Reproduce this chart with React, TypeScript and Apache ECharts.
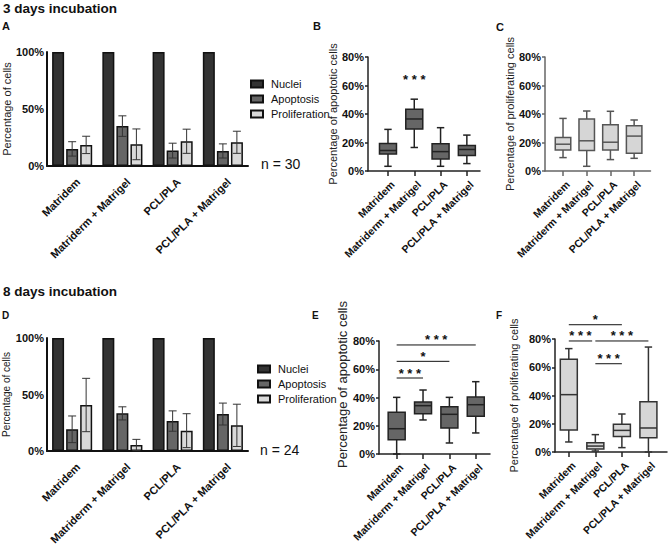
import React, { useEffect, useRef } from "react";
import * as echarts from "echarts";

const categories = ["Matridem", "Matriderm + Matrigel", "PCL/PLA", "PCL/PLA + Matrigel"];
const seriesNames = ["Nuclei", "Apoptosis", "Proliferation"];
const categoryPositions = [0, 1, 2, 3];

// Panel A – 3 days incubation (mean ± error, %)
const nuclei3d = [100, 100, 100, 100];
const apoptosis3d = [15, 35, 13.5, 13.2];
const apoptosis3dErr = [6.3, 9, 6.5, 6.2];
const prolif3d = [18.5, 19, 21.7, 20.8];
const prolif3dErr = [7.6, 13.5, 10.6, 9.7];

// Panel D – 8 days incubation
const nuclei8d = [100, 100, 100, 100];
const apoptosis8d = [19.2, 33.3, 26.5, 32.7];
const apoptosis8dErr = [11.8, 5.8, 9, 9.7];
const prolif8d = [40.7, 5.3, 18, 22.7];
const prolif8dErr = [23.6, 5, 15, 18.7];

// Box plots: [min, q1, median, q3, max]
const apoptoticBox3d = [
  [3.3, 12, 14.4, 19.3, 29.2],
  [16.5, 29.4, 36.5, 43.3, 50.4],
  [3.3, 8.5, 13.6, 19.1, 30.4],
  [5.2, 10.8, 15.1, 17.9, 25.2],
];
const prolifBox3d = [
  [9.4, 14.8, 18.8, 23.5, 36.9],
  [3.3, 14.4, 21.2, 36.5, 42.1],
  [8, 14.8, 20.2, 32.5, 41.9],
  [8.9, 12.5, 24.5, 31.8, 35.8],
];
const apoptoticBox8d = [
  [0, 10.1, 17.9, 29.5, 40.1],
  [24.1, 28.5, 34.2, 36.8, 45.3],
  [7.8, 18.4, 28.1, 33.5, 40.1],
  [14.9, 26.7, 34.9, 40.3, 51.2],
];
const prolifBox8d = [
  [7.1, 15.6, 40.6, 65.6, 73.2],
  [0.7, 2.1, 4.2, 6.6, 12.3],
  [3.1, 10.9, 15.3, 19.6, 26.9],
  [0, 10.1, 17, 35.6, 74.3],
];

// Significance: [from, to, y]
const sig3dApoptotic = [[1, 1, 60.8]];
const sig3dApoptoticLabels = ["* * *"];
const sig8dApoptotic = [
  [0, 3, 77.2],
  [0, 2, 65.6],
  [0, 1, 53.8],
];
const sig8dApoptoticLabels = ["* * *", "*", "* * *"];
const sig8dProlif = [
  [0, 2, 90.1],
  [0, 0.88, 78.6],
  [1, 3, 78.6],
  [1, 2, 62.5],
];
const sig8dProlifLabels = ["*", "* * *", "* * *", "* * *"];

const FONT = "'Liberation Sans', Arial, Helvetica, sans-serif";

const errRender = (offset: number, color: string) => (params: any, api: any) => {
  const c = api.value(0);
  const m = api.value(1);
  const e = api.value(2);
  const top = api.coord([c, m + e]);
  const bot = api.coord([c, Math.max(0, m - e)]);
  const x = top[0] + offset;
  const style = { stroke: color, lineWidth: 1 };
  return {
    type: "group",
    children: [
      { type: "line", shape: { x1: x, y1: top[1], x2: x, y2: bot[1] }, style },
      { type: "line", shape: { x1: x - 4, y1: top[1], x2: x + 4, y2: top[1] }, style },
      { type: "line", shape: { x1: x - 4, y1: bot[1], x2: x + 4, y2: bot[1] }, style },
    ],
  };
};

const boxRender = (boxW: number, fill: string, stroke: string) => (params: any, api: any) => {
  const x = api.value(0);
  const p = [1, 2, 3, 4, 5].map((d) => api.coord([x, api.value(d)]));
  const cx = p[0][0];
  const hw = boxW / 2;
  const cw = 3.7;
  const ls = { stroke, lineWidth: 1.5, fill: "none" };
  return {
    type: "group",
    children: [
      { type: "line", shape: { x1: cx, y1: p[4][1], x2: cx, y2: p[3][1] }, style: ls },
      { type: "line", shape: { x1: cx - cw, y1: p[4][1], x2: cx + cw, y2: p[4][1] }, style: ls },
      { type: "line", shape: { x1: cx, y1: p[0][1], x2: cx, y2: p[1][1] }, style: ls },
      { type: "line", shape: { x1: cx - cw, y1: p[0][1], x2: cx + cw, y2: p[0][1] }, style: ls },
      {
        type: "rect",
        shape: { x: cx - hw, y: p[3][1], width: boxW, height: p[1][1] - p[3][1] },
        style: { fill, stroke, lineWidth: 1.5 },
      },
      { type: "line", shape: { x1: cx - hw, y1: p[2][1], x2: cx + hw, y2: p[2][1] }, style: ls },
    ],
  };
};

const sigRender = (labels: string[]) => (params: any, api: any) => {
  const a = api.coord([api.value(0), api.value(2)]);
  const b = api.coord([api.value(1), api.value(2)]);
  const children: any[] = [];
  if (Math.abs(b[0] - a[0]) > 0.5) {
    children.push({
      type: "line",
      shape: { x1: a[0], y1: a[1], x2: b[0], y2: b[1] },
      style: { stroke: "#111", lineWidth: 1 },
    });
  }
  children.push({
    type: "text",
    x: (a[0] + b[0]) / 2,
    y: a[1] - 5,
    style: {
      text: labels[params.dataIndex],
      align: "center",
      verticalAlign: "middle",
      fontSize: 13,
      fontWeight: "bold",
      fontFamily: FONT,
      fill: "#111",
    },
  });
  return { type: "group", children };
};

const labelRender = (fontSize: number, dx: number, dy: number) => (params: any, api: any) => {
  const p = api.coord([api.value(0), 0]);
  return {
    type: "text",
    x: p[0] + dx,
    y: p[1] + dy,
    rotation: Math.PI / 4,
    style: {
      text: categories[params.dataIndex],
      align: "right",
      verticalAlign: "middle",
      fontSize,
      fontWeight: "bold",
      fontFamily: FONT,
      fill: "#111",
    },
  };
};

const pct = (v: number) => `${v}%`;

function barXAxis(gridIndex: number) {
  return {
    type: "category",
    gridIndex,
    data: categories,
    axisLine: { lineStyle: { color: "#111", width: 2 } },
    axisTick: { alignWithLabel: true, length: 5, lineStyle: { color: "#111", width: 1.5 } },
    axisLabel: { show: false },
  };
}

function boxXAxis(gridIndex: number, min: number, max: number, lineColor: string) {
  return {
    type: "value",
    gridIndex,
    min,
    max,
    splitLine: { show: false },
    axisLine: { show: true, onZero: false, lineStyle: { color: lineColor, width: 1.5 } },
    axisTick: { show: true, length: 5, customValues: categoryPositions, lineStyle: { color: lineColor, width: 1.5 } },
    axisLabel: { show: false },
  };
}

function yAxis(
  gridIndex: number,
  max: number,
  interval: number,
  name: string,
  nameGap: number,
  nameSize: number,
  lineColor: string,
  ticks: boolean,
  namePad: number[] = [0, 0, 0, 0]
) {
  return {
    type: "value",
    gridIndex,
    min: 0,
    max,
    interval,
    name,
    nameLocation: "middle",
    nameGap,
    nameTextStyle: { fontSize: nameSize, color: "#222", fontFamily: FONT, padding: namePad },
    splitLine: { show: false },
    axisLine: { show: true, onZero: false, lineStyle: { color: lineColor, width: ticks ? 1.5 : 2 } },
    axisTick: { show: ticks, length: 3, lineStyle: { color: lineColor, width: 1.5 } },
    axisLabel: { formatter: pct, fontWeight: "bold", fontSize: 11, color: "#111", margin: ticks ? 4 : 3, fontFamily: FONT },
  };
}

const barItem = (color: string) => ({ color, borderColor: "#111", borderWidth: 1.5 });

function barSeries(axis: number, nuclei: number[], apo: number[], pro: number[]) {
  return [
    { name: seriesNames[0], type: "bar", xAxisIndex: axis, yAxisIndex: axis, data: nuclei, barWidth: 12, barGap: "17%", itemStyle: barItem("#333333") },
    { name: seriesNames[1], type: "bar", xAxisIndex: axis, yAxisIndex: axis, data: apo, barWidth: 12, barGap: "17%", itemStyle: barItem("#666666") },
    { name: seriesNames[2], type: "bar", xAxisIndex: axis, yAxisIndex: axis, data: pro, barWidth: 12, barGap: "17%", itemStyle: barItem("#d9d9d9") },
  ];
}

function errSeries(axis: number, means: number[], errs: number[], offset: number) {
  return {
    type: "custom",
    xAxisIndex: axis,
    yAxisIndex: axis,
    renderItem: errRender(offset, "#333"),
    encode: { x: 0, y: 1 },
    data: means.map((m, i) => [i, m, errs[i]]),
    z: 5,
    silent: true,
  };
}

function boxSeries(axis: number, boxes: number[][], w: number, fill: string, stroke: string) {
  return {
    type: "custom",
    xAxisIndex: axis,
    yAxisIndex: axis,
    renderItem: boxRender(w, fill, stroke),
    encode: { x: 0, y: [1, 2, 3, 4, 5] },
    data: boxes.map((b, i) => [categoryPositions[i], ...b]),
    silent: true,
  };
}

function sigSeries(axis: number, sig: number[][], labels: string[]) {
  return {
    type: "custom",
    xAxisIndex: axis,
    yAxisIndex: axis,
    renderItem: sigRender(labels),
    encode: { x: [0, 1], y: 2 },
    data: sig,
    clip: false,
    silent: true,
  };
}

function labelSeries(axis: number, fontSize: number, dx: number, dy: number) {
  return {
    type: "custom",
    xAxisIndex: axis,
    yAxisIndex: axis,
    renderItem: labelRender(fontSize, dx, dy),
    encode: { x: 0, y: 1 },
    data: categoryPositions.map((i) => [i, 0]),
    clip: false,
    silent: true,
  };
}

const textEl = (text: string, x: number, y: number, size: number, bold = true, vAlign = "top") => ({
  type: "text",
  x,
  y,
  style: { text, fontSize: size, fontWeight: bold ? "bold" : "normal", fontFamily: FONT, fill: "#111", verticalAlign: vAlign },
});

const legendBase = {
  orient: "vertical",
  icon: "rect",
  itemWidth: 12,
  itemHeight: 7,
  itemGap: 3,
  data: seriesNames,
  textStyle: { fontSize: 11, lineHeight: 12, color: "#111", padding: [0, 0, 0, 3], fontFamily: FONT },
  selectedMode: false,
};

export default function App() {
  const ref = useRef<HTMLDivElement>(null);
  useEffect(() => {
    if (!ref.current) return;
    const chart = echarts.init(ref.current, undefined, { renderer: "svg" });
    const option: any = {
      animation: false,
      textStyle: { fontFamily: FONT },
      grid: [
        { left: 47, top: 52, width: 201, height: 114 },
        { left: 368, top: 57, width: 112, height: 114 },
        { left: 545, top: 57, width: 105.5, height: 114 },
        { left: 47, top: 338, width: 201, height: 113 },
        { left: 379, top: 341, width: 111, height: 113 },
        { left: 555, top: 339, width: 112, height: 113 },
      ],
      xAxis: [
        barXAxis(0),
        boxXAxis(1, -0.76, 3.5, "#222"),
        boxXAxis(2, -0.76, 3.69, "#666"),
        barXAxis(3),
        boxXAxis(4, -0.67, 3.54, "#222"),
        boxXAxis(5, -0.52, 3.7, "#222"),
      ],
      yAxis: [
        yAxis(0, 100, 50, "Percentage of cells", 33, 11, "#111", false),
        yAxis(1, 80, 20, "Percentage of apoptotic cells", 29, 11, "#222", true),
        yAxis(2, 80, 20, "Percentage of proliferating cells", 26, 11, "#666", true),
        yAxis(3, 100, 50, "Percentage of cells", 35, 10, "#111", false),
        yAxis(4, 80, 20, "Percentage of apoptotic cells", 28, 13, "#222", true, [0, 0, 0, 26]),
        yAxis(5, 80, 20, "Percentage of proliferating cells", 36, 11, "#222", true),
      ],
      legend: [
        { ...legendBase, left: 245, top: 73 },
        { ...legendBase, left: 252, top: 358 },
      ],
      graphic: [
        textEl("3 days incubation", 3, 1, 13.5),
        textEl("8 days incubation", 3, 284.5, 13.5),
        textEl("A", 2, 20, 11),
        textEl("B", 313, 20, 11),
        textEl("C", 496, 21, 11),
        textEl("D", 2, 310, 10),
        textEl("E", 312, 310, 10),
        textEl("F", 496, 310, 10),
        textEl("n = 30", 261, 164, 14, false, "middle"),
        textEl("n = 24", 260, 450, 14, false, "middle"),
      ],
      series: [
        ...barSeries(0, nuclei3d, apoptosis3d, prolif3d),
        errSeries(0, apoptosis3d, apoptosis3dErr, 0),
        errSeries(0, prolif3d, prolif3dErr, 14),
        labelSeries(0, 11, 6, 14),
        boxSeries(1, apoptoticBox3d, 17, "#666666", "#222"),
        sigSeries(1, sig3dApoptotic, sig3dApoptoticLabels),
        labelSeries(1, 10.5, 5, 12),
        boxSeries(2, prolifBox3d, 15.5, "#d6d6d6", "#555"),
        labelSeries(2, 10.5, 5, 12),
        ...barSeries(3, nuclei8d, apoptosis8d, prolif8d),
        errSeries(3, apoptosis8d, apoptosis8dErr, 0),
        errSeries(3, prolif8d, prolif8dErr, 14),
        labelSeries(3, 11, 6, 14),
        boxSeries(4, apoptoticBox8d, 17, "#666666", "#222"),
        sigSeries(4, sig8dApoptotic, sig8dApoptoticLabels),
        labelSeries(4, 10.5, 5, 12),
        boxSeries(5, prolifBox8d, 17, "#d6d6d6", "#333"),
        sigSeries(5, sig8dProlif, sig8dProlifLabels),
        labelSeries(5, 10.5, 5, 12),
      ],
    };
    chart.setOption(option);
    return () => chart.dispose();
  }, []);
  return (
    <div
      ref={ref}
      style={{ position: "fixed", left: 0, top: 0, width: 669, height: 546, background: "#fff" }}
    />
  );
}
